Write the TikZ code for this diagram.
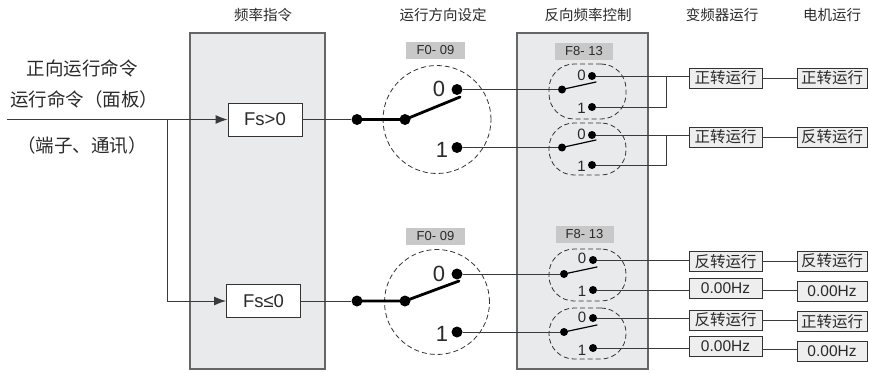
\documentclass[tikz,border=0pt]{standalone}
\usepackage{fontspec}
\setmainfont{Liberation Sans}
\newfontfamily\cjk{Noto Sans CJK SC}
\usetikzlibrary{arrows.meta}
\definecolor{panelgray}{HTML}{E9EAEC}
\definecolor{lblgray}{HTML}{C8C8C8}
\definecolor{boxgray}{HTML}{EEEEEE}
\definecolor{wirec}{HTML}{3A3A3A}
\definecolor{txtc}{HTML}{2A2A2A}
\begin{document}
\begin{tikzpicture}[x=1pt,y=-1pt,
  panel/.style={draw=black!60,fill=panelgray,line width=1.2pt,inner sep=0,outer sep=0},
  fsbox/.style={draw=black!80,fill=white,line width=0.9pt,minimum width=74,minimum height=33,inner sep=0,font=\fontsize{18.5}{20}\selectfont,text=txtc},
  lblbox/.style={fill=lblgray,minimum height=17,inner sep=0,font=\fontsize{13}{14}\selectfont,text=txtc},
  outbox/.style={draw=black!80,fill=boxgray,line width=0.9pt,minimum height=20,inner sep=0,font=\cjk\fontsize{15.5}{16}\selectfont,text=txtc},
  hzbox/.style={outbox,font=\fontsize{15.5}{16}\selectfont},
  bigdot/.style={circle,fill=black,inner sep=0,minimum size=11},
  smalldot/.style={circle,fill=black,inner sep=0,minimum size=8},
  wire/.style={draw=wirec,line width=0.9pt},
  thickarm/.style={draw=black,line width=2.8pt,line cap=round},
  thinarm/.style={draw=black,line width=1.2pt,line cap=round},
  dashcirc/.style={circle,draw=black!80,dash pattern=on 5pt off 3pt,line width=0.8pt,inner sep=0},
  dashgrp/.style={rectangle,rounded corners=25pt,draw=black!80,dash pattern=on 5pt off 3pt,line width=0.8pt,inner sep=0,minimum width=77},
  ttl/.style={font=\cjk\fontsize{14.5}{16}\selectfont,text=txtc},
  lefttxt/.style={font=\cjk\fontsize{18.5}{20}\selectfont,text=txtc},
  bignum/.style={font=\fontsize{22}{24}\selectfont,text=txtc,inner sep=0},
  smallnum/.style={font=\fontsize{15}{16}\selectfont,text=txtc,inner sep=0}
]
\useasboundingbox (0,0) rectangle (869,372);

% titles
\node[ttl] (t1) at (263,15) {频率指令};
\node[ttl] (t2) at (443,15) {运行方向设定};
\node[ttl] (t3) at (588,15) {反向频率控制};
\node[ttl] (t4) at (722,15) {变频器运行};
\node[ttl] (t5) at (832,15) {电机运行};

% left texts
\node[lefttxt] (l1) at (82,68) {正向运行命令};
\node[lefttxt] (l2) at (84,99) {运行命令（面板）};
\node[lefttxt] (l3) at (82,145) {（端子、通讯）};

% panels
\node[panel,minimum width=135,minimum height=336] (p1) at (257.5,201) {};
\node[panel,minimum width=131,minimum height=336] (p2) at (582.5,201) {};

% Fs boxes
\node[fsbox] (fs1) at (265,119.5) {Fs>0};
\node[fsbox] (fs2) at (263.5,301) {Fs≤0};

% input lines
\coordinate (in) at (7,119.5);
\coordinate (br) at (167,119.5);
\coordinate (b2) at (167,301);
\draw[wire,-{Latex[length=12pt,width=9pt]}] (in) -- (fs1.west);
\draw[wire,-{Latex[length=12pt,width=9pt]}] (br) -- (b2) -- (fs2.west);

% parameter labels
\node[lblbox,minimum width=59] (f1) at (435.5,50.5) {F0- 09};
\node[lblbox,minimum width=59] (f2) at (435.5,236) {F0- 09};
\node[lblbox,minimum width=58] (g1) at (584,51.5) {F8- 13};
\node[lblbox,minimum width=58] (g2) at (584.5,234.5) {F8- 13};

% dashed circles
\node[dashcirc,minimum size=108] (dc1) at (437,119.5) {};
\node[dashcirc,minimum size=105] (dc2) at (437,302) {};

% top F0-09 switch
\node[bigdot] (d1) at (357,119.5) {};
\node[bigdot] (d2) at (405,119.5) {};
\node[bigdot] (c0) at (457,89.5) {};
\node[bigdot] (c1) at (457,147.5) {};
\coordinate (arm1) at (460,97);
\node[bignum] (n0) at (439,89) {0};
\node[bignum] (n1) at (442,149.5) {1};
\draw[wire] (fs1) -- (d1);
\draw[thickarm] (d1.center) -- (d2.center) -- (arm1);

% bottom F0-09 switch
\node[bigdot] (e1) at (357,301) {};
\node[bigdot] (e2) at (405,301) {};
\node[bigdot] (k0) at (457,274) {};
\node[bigdot] (k1) at (457,332) {};
\coordinate (arm2) at (459,281);
\node[bignum] (m0) at (439,274) {0};
\node[bignum] (m1) at (442,333.5) {1};
\draw[wire] (fs2) -- (e1);
\draw[thickarm] (e1.center) -- (e2.center) -- (arm2);

% F8-13 dashed groups
\node[dashgrp,minimum height=55] (gA) at (587.5,91.5) {};
\node[dashgrp,minimum height=52] (gB) at (587.5,149) {};
\node[dashgrp,minimum height=52] (gC) at (587.5,275) {};
\node[dashgrp,minimum height=51] (gD) at (587.5,333.5) {};

% group A
\node[smalldot] (sA) at (562,89.5) {};
\node[smalldot] (a0) at (592,76) {};
\node[smalldot] (a1) at (592,107) {};
\coordinate (armA) at (596,82);
\node[smallnum] at (581.5,75.5) {0};
\node[smallnum] at (581.5,108.5) {1};
\draw[thinarm] (sA.center) -- (armA);
% group B
\node[smalldot] (sB) at (562,147.5) {};
\node[smalldot] (b0) at (592,135) {};
\node[smalldot] (b1) at (592,165) {};
\coordinate (armB) at (596,140);
\node[smallnum] at (581.5,134) {0};
\node[smallnum] at (581.5,166.5) {1};
\draw[thinarm] (sB.center) -- (armB);
% group C
\node[smalldot] (sC) at (564,274) {};
\node[smalldot] (q0) at (593,260) {};
\node[smalldot] (q1) at (593,290) {};
\coordinate (armC) at (597,267);
\node[smallnum] at (582,258) {0};
\node[smallnum] at (582,291.5) {1};
\draw[thinarm] (sC.center) -- (armC);
% group D
\node[smalldot] (sD) at (564,332) {};
\node[smalldot] (r0) at (593,318) {};
\node[smalldot] (r1) at (593,348) {};
\coordinate (armD) at (597,325);
\node[smallnum] at (582,317) {0};
\node[smallnum] at (582,350.5) {1};
\draw[thinarm] (sD.center) -- (armD);

% F0-09 contacts to F8-13 commons
\draw[wire] (c0) -- (sA);
\draw[wire] (c1) -- (sB);
\draw[wire] (k0) -- (sC);
\draw[wire] (k1) -- (sD);

% output boxes
\node[outbox,minimum width=73] (L1) at (725.5,78) {正转运行};
\node[outbox,minimum width=70] (R1) at (832,78) {正转运行};
\node[outbox,minimum width=73] (L2) at (725.5,137) {正转运行};
\node[outbox,minimum width=70] (R2) at (832,137) {反转运行};
\node[outbox,minimum width=73] (L3) at (725.5,261.5) {反转运行};
\node[outbox,minimum width=70] (R3) at (832,261) {反转运行};
\node[hzbox,minimum width=73] (L4) at (725.5,288) {0.00Hz};
\node[hzbox,minimum width=70] (R4) at (832,291) {0.00Hz};
\node[outbox,minimum width=73] (L5) at (725.5,320) {反转运行};
\node[outbox,minimum width=70] (R5) at (832,321.5) {正转运行};
\node[hzbox,minimum width=73] (L6) at (725.5,346.5) {0.00Hz};
\node[hzbox,minimum width=70] (R6) at (832,351.5) {0.00Hz};

% contacts to output boxes
\coordinate (j1) at (666,76);
\coordinate (j2) at (666,135);
\draw[wire] (a0) -- (a0 -| L1.west);
\draw[wire] (a1) -| (j1);
\draw[wire] (b0) -- (b0 -| L2.west);
\draw[wire] (b1) -| (j2);
\draw[wire] (q0) -- (q0 -| L3.west);
\draw[wire] (q1) -- (q1 -| L4.west);
\draw[wire] (r0) -- (r0 -| L5.west);
\draw[wire] (r1) -- (r1 -| L6.west);

% box to box
\draw[wire] (L1.east) -- (L1.east -| R1.west);
\draw[wire] (L2.east) -- (L2.east -| R2.west);
\draw[wire] (L3.east) -- (L3.east -| R3.west);
\coordinate (h4) at (762,290);
\draw[wire] (h4) -- (h4 -| R4.west);
\draw[wire] (L5.east) -- (L5.east -| R5.west);
\coordinate (h6) at (762,349);
\draw[wire] (h6) -- (h6 -| R6.west);
\end{tikzpicture}
\end{document}
